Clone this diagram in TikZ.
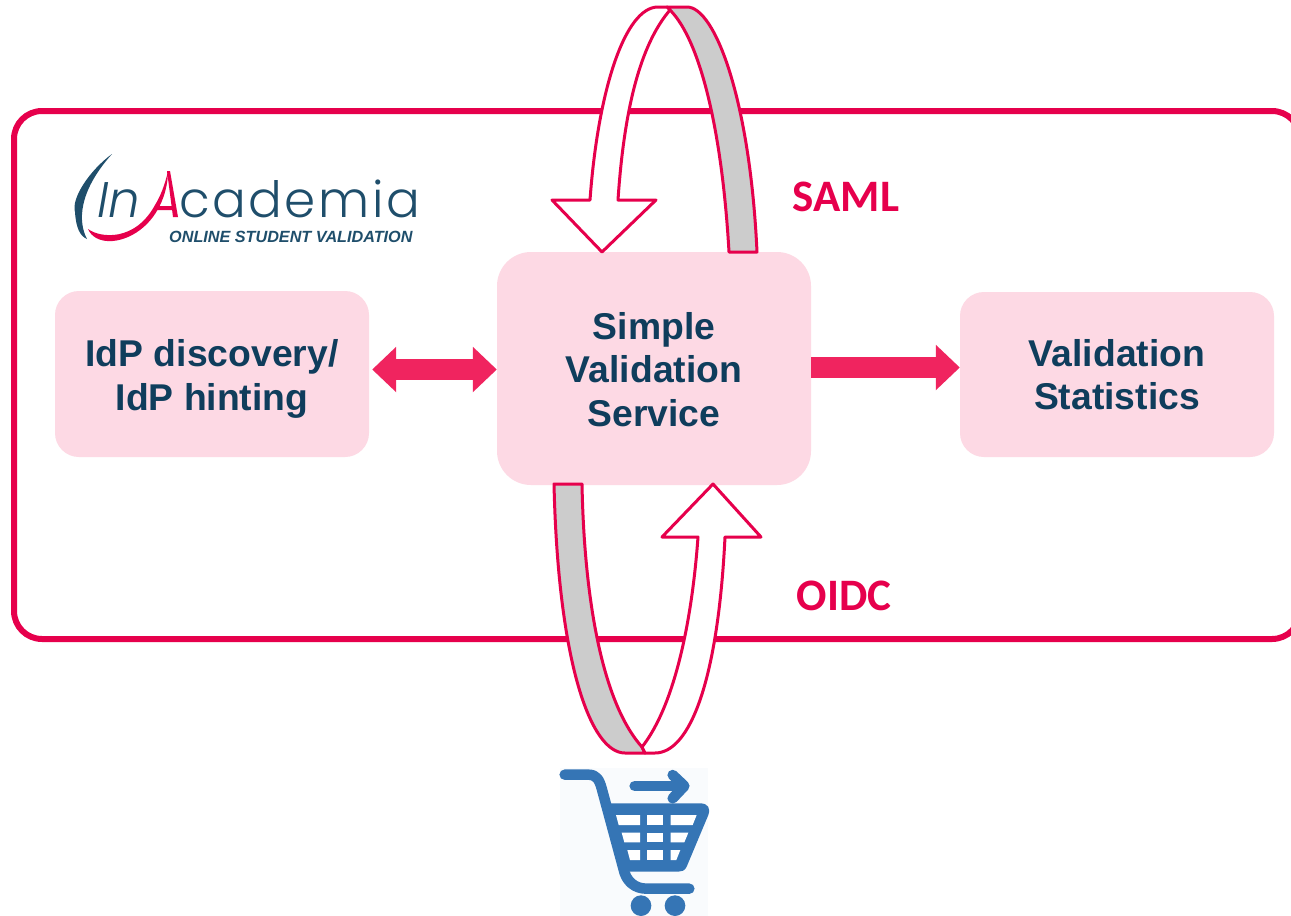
\documentclass[tikz,border=0pt]{standalone}
\usepackage{fontspec}
\setmainfont{Liberation Sans}
\newfontfamily\labelfont{Carlito}
\newfontfamily\logofont{Poppins}[UprightFont=* Light,ItalicFont=* Light Italic]
\usetikzlibrary{arrows.meta}
\definecolor{crim}{HTML}{E6004C}
\definecolor{arrowpink}{HTML}{F0245F}
\definecolor{boxpink}{HTML}{FDD9E4}
\definecolor{navy}{HTML}{0F3D5C}
\definecolor{bandgray}{HTML}{CCCCCC}
\definecolor{cartblue}{HTML}{3575B5}
\definecolor{logoblue}{HTML}{1F4E6B}
\tikzset{
  softbox/.style={fill=boxpink,draw=none,align=center,font=\fontsize{37.3}{43.5}\selectfont\bfseries,text=navy,inner sep=0pt},
  band/.style={draw=crim,line width=3pt,line join=round,fill=bandgray},
  whitearrow/.style={draw=crim,line width=3pt,line join=round,fill=white},
  flow/.style={draw=arrowpink,line width=21pt},
  proto/.style={font=\labelfont\fontsize{45}{45}\selectfont\bfseries,text=crim,inner sep=0pt},
  cartline/.style={draw=cartblue,line width=10.5pt,line cap=round,line join=round},
}
\begin{document}
\begin{tikzpicture}[x=1pt,y=-1pt]
\useasboundingbox (0,0) rectangle (1291,916);
\clip (0,0) rectangle (1291,916);
\fill[white] (0,0) rectangle (1291,916);
% outer frame
\draw[crim,line width=6pt,rounded corners=28pt] (14,111) rectangle (1300,639);
% boxes
\node[softbox,rounded corners=24pt,minimum width=314pt,minimum height=166pt] (idp) at (212,374) {\rule{0pt}{37pt}IdP discovery/\\IdP hinting};
\node[softbox,rounded corners=34pt,minimum width=314pt,minimum height=233pt] (svs) at (654,368.5) {\rule{0pt}{29pt}Simple\\Validation\\Service};
\node[softbox,rounded corners=24pt,minimum width=314pt,minimum height=165pt] (stats) at (1117,374.5) {Validation\\Statistics};
% connectors
\draw[flow,{Triangle[length=24pt,width=44pt]}-{Triangle[length=24pt,width=44pt]},shorten <=3pt] (idp.east |- 0,369.5) -- (svs.west |- 0,369.5);
\draw[flow,-{Triangle[length=24pt,width=44pt]}] (svs.east |- 0,367.5) -- (stats.west |- 0,367.5);
% top loop
\coordinate (topA) at (757,252);
\coordinate (topB) at (729,252);
\coordinate (topC) at (687,7);
\coordinate (topD) at (670,10);
\coordinate (topE) at (658,7);
\coordinate (topF) at (667,7);
\path[band] (topB) -- (topA) .. controls (750,100) and (715,7) .. (topC) -- (topF) -- (topD) .. controls (700,40) and (722,130) .. (topB) -- cycle;
\path[whitearrow] (topF) -- (topE) .. controls (625,7) and (598,90) .. (590,200) -- (552,200) -- (602,252) -- (656,200) -- (618,200) .. controls (624,110) and (640,45) .. (topD) -- cycle;
% bottom loop
\coordinate (botA) at (554,484);
\coordinate (botB) at (582,484);
\coordinate (botC) at (625,753);
\coordinate (botD) at (642,747);
\coordinate (botE) at (655,753);
\coordinate (botF) at (645,753);
\path[band] (botA) -- (botB) .. controls (584,590) and (600,700) .. (botD) -- (botF) -- (botC) .. controls (590,753) and (558,660) .. (botA) -- cycle;
\path[whitearrow] (botE) .. controls (690,753) and (718,680) .. (725,537) -- (761,537) -- (713,484) -- (662,537) -- (698,537) .. controls (692,620) and (675,705) .. (botD) -- (botF) -- cycle;
% protocol labels
\node[proto] (saml) at (846,197) {SAML};
\node[proto] (oidc) at (844,596) {OIDC};
% logo
\fill[logoblue] (112,154) .. controls (90,170) and (71,198) .. (75,212) .. controls (76,228) and (80,236) .. (87,239) .. controls (78,222) and (78,192) .. (112,154) -- cycle;
\fill[crim] (88,229) .. controls (100,238) and (135,242) .. (155,205) .. controls (160,197) and (165,185) .. (168,171) .. controls (168,190) and (160,215) .. (140,230) .. controls (120,245) and (95,245) .. (88,229) -- cycle;
\fill[crim] (167,171) -- (170,171) -- (178,217) -- (173,217) -- cycle;
\fill[crim] (155,206) -- (172,206) -- (172,210) -- (153,210) -- cycle;
\node[font=\logofont\itshape\fontsize{50}{50}\selectfont,text=logoblue,anchor=base west,inner sep=0pt,text depth=0pt] (logoin) at (97,217) {In};
\node[font=\logofont\fontsize{50}{50}\selectfont,text=logoblue,anchor=base west,inner sep=0pt,text depth=0pt] (logoname) at (179,217) {\addfontfeature{LetterSpace=5}cademia};
\node[font=\bfseries\itshape\fontsize{16.2}{16.2}\selectfont,text=logoblue,anchor=base west,inner sep=0pt] (logotag) at (169,242) {ONLINE STUDENT VALIDATION};
% cart
\fill[white!97!cartblue] (560,768) rectangle (708,916);
\begin{scope}[shift={(540,480)},x=0.33333pt,y=-0.33333pt]
\draw[cartline] (74,884) -- (145,884) .. controls (170,884) and (178,900) .. (185,925) -- (250,1165) .. controls (258,1205) and (285,1226) .. (320,1226) -- (448,1226);
\fill[cartblue] (205,970) -- (480,970) .. controls (505,970) and (512,985) .. (505,1005) -- (440,1160) .. controls (435,1172) and (425,1175) .. (415,1175) -- (245,1175) -- cycle;
\fill[white] (228,1005) -- (300,1005) -- (300,1035) -- (236,1035) -- cycle;
\fill[white] (322,1005) rectangle (370,1035);
\fill[white] (392,1005) -- (470,1005) -- (458,1035) -- (392,1035) -- cycle;
\fill[white] (245,1058) -- (300,1058) -- (300,1087) -- (253,1087) -- cycle;
\fill[white] (322,1058) rectangle (370,1087);
\fill[white] (392,1058) -- (445,1058) -- (433,1087) -- (392,1087) -- cycle;
\fill[white] (262,1110) -- (300,1110) -- (300,1140) -- (270,1140) -- cycle;
\fill[white] (322,1110) rectangle (370,1140);
\fill[white] (392,1110) -- (421,1110) -- (409,1140) -- (392,1140) -- cycle;
\draw[cartline] (284,918) -- (425,918);
\draw[cartline] (398,885) -- (433,918) -- (398,955);
\fill[cartblue] (303,1277) circle (31);
\fill[cartblue] (405,1277) circle (31);
\end{scope}
\end{tikzpicture}
\end{document}
